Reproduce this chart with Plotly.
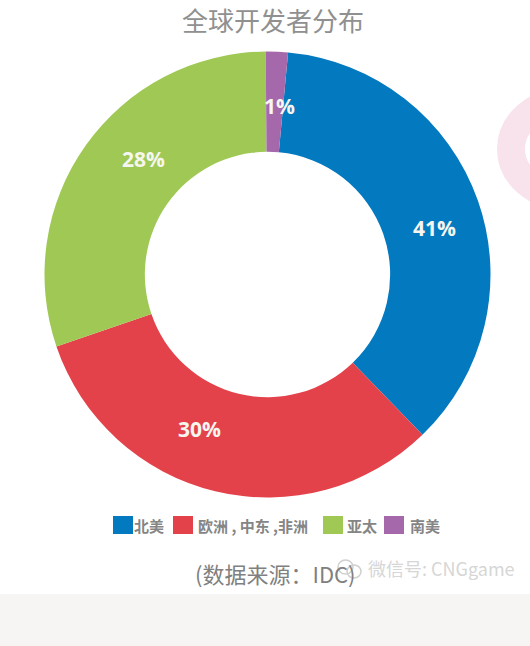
import plotly.graph_objects as go

# slice sizes as drawn in the picture, the printed labels do not quite agree with them
regions = ['北美', '欧洲 , 中东 ,非洲', '亚太', '南美']
drawn_share = [36.3, 32.0, 30.1, 1.6]
printed = ['41%', '30%', '28%', '1%']
colors = ['#0379bf', '#e4424a', '#9fc954', '#a568ab']

W = 530
H = 646
FONT = 'Noto Sans CJK SC'


def px(x):
    return x / W


def py(y):
    return 1 - y / H


fig = go.Figure(go.Pie(
    labels=regions,
    values=drawn_share,
    marker=dict(colors=colors, line=dict(width=0)),
    hole=0.55,
    sort=False,
    direction='clockwise',
    rotation=5.3,
    textinfo='none',
    showlegend=False,
    domain=dict(x=[px(44), px(491)], y=[py(497.5), py(51.5)]),
))

annotations = []
shapes = []


def add_text(x, y, text, size, color, family=FONT, anchor='center'):
    annotations.append(dict(x=px(x), y=py(y), text=text, showarrow=False, xanchor=anchor, yanchor='middle',
                            borderpad=0, font=dict(family=family, size=size, color=color)))


# slice labels
label_pos = [(434, 228), (199, 429), (143, 159), (279, 106)]
for txt, (x, y) in zip(printed, label_pos):
    add_text(x, y, '<b>' + txt + '</b>', 21, '#f6f6f0', family='Open Sans')

# legend
swatch_x = [113, 173, 323, 384]
text_x = [133, 197, 346, 409]
for c, sx, tx, t in zip(colors, swatch_x, text_x, regions):
    shapes.append(dict(type='rect', xref='paper', yref='paper', x0=px(sx), x1=px(sx + 20),
                       y0=py(534), y1=py(516), fillcolor=c, line=dict(width=0)))
    add_text(tx, 525, '<b>' + t + '</b>', 15, '#858585', anchor='left')

# title, source, watermark
add_text(273, 19, '全球开发者分布', 26, '#909090')
add_text(194, 573, '(数据来源：IDC)', 22, '#808080', anchor='left')
add_text(367, 568, '微信号: CNGgame', 18, '#d6d6d6', anchor='left')

# wechat icon
for x0, x1, y0, y1 in [(338, 353, 560, 574), (347, 361, 565, 578)]:
    shapes.append(dict(type='circle', xref='paper', yref='paper', x0=px(x0), x1=px(x1),
                       y0=py(y1), y1=py(y0), line=dict(color='#d0d0d0', width=1.5)))

# grey band at the bottom and the pink blur on the right
shapes.append(dict(type='rect', xref='paper', yref='paper', x0=0, x1=1, y0=0, y1=py(594),
                   fillcolor='#f6f5f3', line=dict(width=0), layer='below'))
shapes.append(dict(type='circle', xref='paper', yref='paper', x0=px(511), x1=px(619),
                   y0=py(196), y1=py(102), line=dict(color='#f8e2ec', width=28), layer='below'))

fig.update_layout(
    width=W,
    height=H,
    margin=dict(l=0, r=0, t=0, b=0),
    paper_bgcolor='white',
    annotations=annotations,
    shapes=shapes,
)

# the page body has a default margin that would push the figure off the window
fig.write_html('out.html', config=dict(displayModeBar=False), post_script="document.body.style.margin='0';")
